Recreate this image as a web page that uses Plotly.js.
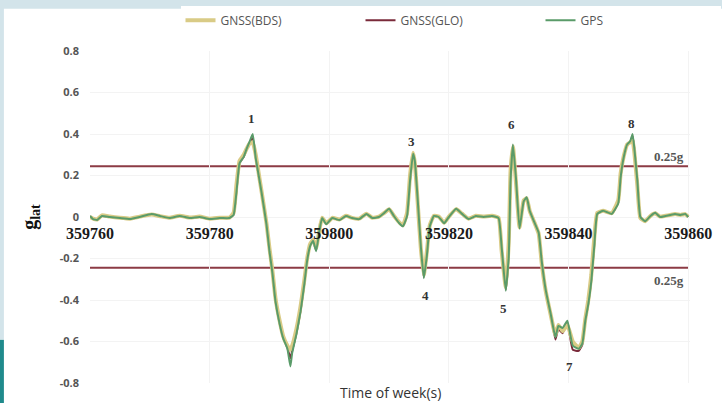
<!DOCTYPE html>
<html>
<head>
<meta charset="utf-8">
<script src="https://cdn.plot.ly/plotly-3.0.1.min.js"></script>
<style>html,body{margin:0;padding:0;background:#fff;}#chart{width:722px;height:403px;}</style>
</head>
<body>
<div id="chart"></div>
<script>
// Time of week (s)
const timeOfWeek = [359760.0, 359760.5, 359761.2, 359762.0, 359763.3, 359765.0, 359766.7, 359768.3, 359770.3, 359771.7,
  359773.3, 359775.0, 359776.7, 359778.3, 359780.0, 359781.7, 359783.3, 359784.0, 359784.5, 359785.0,
  359785.7, 359786.2, 359786.7, 359787.2, 359787.7, 359788.2, 359788.7, 359789.5, 359790.0, 359790.5,
  359791.0, 359791.7, 359792.3, 359793.0, 359793.5, 359793.8, 359794.5, 359795.2, 359795.8, 359796.3,
  359796.8, 359797.3, 359797.8, 359798.3, 359798.8, 359799.5, 359800.5, 359801.7, 359802.8, 359803.8,
  359805.0, 359806.2, 359807.2, 359808.3, 359809.2, 359810.0, 359810.8, 359811.7, 359812.3, 359813.0,
  359813.5, 359814.0, 359814.3, 359814.8, 359815.3, 359815.8, 359816.3, 359816.8, 359817.5, 359818.3,
  359819.2, 359820.0, 359821.2, 359822.2, 359823.3, 359824.5, 359825.8, 359827.2, 359828.3, 359828.8,
  359829.5, 359830.0, 359830.3, 359830.7, 359831.2, 359831.8, 359832.5, 359833.0, 359833.5, 359834.2,
  359835.0, 359835.5, 359836.2, 359837.0, 359837.8, 359838.3, 359839.0, 359839.8, 359840.7, 359841.7,
  359842.3, 359842.8, 359843.3, 359843.8, 359844.3, 359844.8, 359845.8, 359847.2, 359848.3, 359848.7,
  359849.2, 359849.8, 359850.3, 359850.7, 359851.0, 359851.5, 359852.0, 359852.8, 359853.7, 359854.5,
  359855.3, 359856.2, 359857.0, 359857.8, 359858.7, 359859.5, 359860.0];

// Lateral acceleration (g) - GNSS(BDS)
const glatBDS = [0.0, -0.008, -0.012, 0.008, 0.002, -0.004, -0.008, 0.002, 0.012, 0.004,
  -0.004, 0.006, -0.003, 0.002, -0.008, -0.004, -0.003, 0.02, 0.16, 0.27,
  0.30, 0.33, 0.355, 0.36, 0.30, 0.21, 0.12, -0.03, -0.15, -0.26,
  -0.39, -0.50, -0.575, -0.62, -0.64, -0.62, -0.54, -0.43, -0.31, -0.2,
  -0.13, -0.11, -0.15, -0.07, -0.003, -0.03, -0.004, -0.012, 0.006, -0.004,
  -0.008, 0.016, -0.004, 0.002, 0.02, 0.038, 0.006, -0.026, -0.04, 0.02,
  0.2, 0.31, 0.26, 0.06, -0.15, -0.28, -0.17, -0.04, 0.006, 0.002,
  -0.028, 0.002, 0.038, 0.016, -0.008, 0.006, 0.002, 0.006, -0.004, -0.16,
  -0.34, -0.12, 0.22, 0.34, 0.17, -0.05, 0.08, 0.09, 0.03, -0.02,
  -0.08, -0.22, -0.36, -0.47, -0.57, -0.52, -0.55, -0.52, -0.60, -0.63,
  -0.6, -0.49, -0.4, -0.28, -0.1, 0.02, 0.03, 0.018, 0.08, 0.21,
  0.29, 0.35, 0.36, 0.37, 0.31, 0.15, -0.005, -0.02, 0.006, 0.018,
  0.002, 0.006, 0.01, 0.014, 0.01, 0.014, 0.002];

// Lateral acceleration (g) - GNSS(GLO)
const glatGLO = [0.004, -0.01, -0.013, 0.005, 0.001, -0.005, -0.009, 0.001, 0.013, 0.005,
  -0.005, 0.005, -0.004, 0.001, -0.009, -0.005, -0.004, 0.012, 0.13, 0.26,
  0.29, 0.325, 0.36, 0.38, 0.29, 0.2, 0.115, -0.033, -0.16, -0.265,
  -0.40, -0.51, -0.58, -0.63, -0.68, -0.645, -0.56, -0.45, -0.325, -0.205,
  -0.135, -0.115, -0.16, -0.073, -0.005, -0.033, -0.005, -0.014, 0.005, -0.005,
  -0.009, 0.015, -0.005, 0.001, 0.02, 0.04, 0.005, -0.028, -0.043, 0.008,
  0.18, 0.3, 0.265, 0.07, -0.145, -0.29, -0.185, -0.043, 0.005, 0.001,
  -0.029, 0.001, 0.039, 0.015, -0.009, 0.005, 0.001, 0.005, -0.005, -0.145,
  -0.35, -0.17, 0.18, 0.345, 0.185, -0.053, 0.076, 0.093, 0.03, -0.02,
  -0.077, -0.215, -0.358, -0.468, -0.59, -0.54, -0.56, -0.51, -0.64, -0.645,
  -0.615, -0.5, -0.415, -0.3, -0.13, 0.015, 0.03, 0.015, 0.07, 0.195,
  0.285, 0.345, 0.36, 0.39, 0.325, 0.17, 0, -0.02, 0.005, 0.02,
  0.001, 0.005, 0.01, 0.015, 0.01, 0.015, 0.001];

// Lateral acceleration (g) - GPS
const glatGPS = [0.005, -0.01, -0.014, 0.005, 0, -0.005, -0.01, 0, 0.014, 0.005,
  -0.005, 0.005, -0.005, 0, -0.01, -0.005, -0.005, 0.01, 0.125, 0.26,
  0.29, 0.33, 0.365, 0.40, 0.285, 0.2, 0.115, -0.035, -0.165, -0.27,
  -0.405, -0.515, -0.585, -0.635, -0.72, -0.655, -0.565, -0.455, -0.33, -0.21,
  -0.14, -0.115, -0.165, -0.075, -0.005, -0.035, -0.005, -0.015, 0.005, -0.005,
  -0.01, 0.015, -0.005, 0, 0.02, 0.04, 0.005, -0.03, -0.045, 0.005,
  0.175, 0.305, 0.27, 0.075, -0.14, -0.295, -0.19, -0.045, 0.005, 0,
  -0.03, 0, 0.04, 0.015, -0.01, 0.005, 0, 0.005, -0.005, -0.14,
  -0.355, -0.19, 0.175, 0.35, 0.19, -0.055, 0.075, 0.095, 0.03, -0.02,
  -0.075, -0.21, -0.355, -0.465, -0.58, -0.525, -0.535, -0.5, -0.62, -0.635,
  -0.61, -0.5, -0.42, -0.31, -0.14, 0.015, 0.03, 0.015, 0.065, 0.19,
  0.285, 0.35, 0.365, 0.40, 0.33, 0.175, 0, -0.02, 0.005, 0.02,
  0, 0.005, 0.01, 0.015, 0.01, 0.015, 0];

const seriesNames = ['GNSS(BDS)', 'GNSS(GLO)', 'GPS'];
const thresholdValues = [0.245, -0.245];
const thresholdLabels = ['0.25g', '0.25g'];
const xTickValues = [359760, 359780, 359800, 359820, 359840, 359860];
const xTickText = ['359760', '359780', '359800', '359820', '359840', '359860'];
const yTickValues = [-0.8, -0.6, -0.4, -0.2, 0, 0.2, 0.4, 0.6, 0.8];
const yTickText = ['-0.8', '-0.6', '-0.4', '-0.2', '0', '0.2', '0.4', '0.6', '0.8'];
const eventLabels = ['1', '2', '3', '4', '5', '6', '7', '8'];
const eventTimes = [359787.0, 359792.7, 359813.8, 359816.0, 359829.2, 359830.5, 359840.2, 359850.5];
const eventValues = [0.477, -0.804, 0.366, -0.376, -0.443, 0.448, -0.722, 0.453];
const thresholdLabelTime = 359856.8;
const thresholdLabelValues = [0.294, -0.308];

const serif = 'Liberation Serif, Times New Roman, serif';
const sans = 'Open Sans, Noto Sans, sans-serif';

const traces = [
  {x: timeOfWeek, y: glatGLO, name: seriesNames[1], type: 'scatter', mode: 'lines', legendrank: 2,
   line: {color: '#7a2a3a', width: 2, shape: 'spline', smoothing: 0.4}},
  {x: timeOfWeek, y: glatBDS, name: seriesNames[0], type: 'scatter', mode: 'lines', legendrank: 1,
   line: {color: '#d9cb86', width: 4, shape: 'spline', smoothing: 0.4}},
  {x: timeOfWeek, y: glatGPS, name: seriesNames[2], type: 'scatter', mode: 'lines', legendrank: 3,
   line: {color: '#5a9b69', width: 2, shape: 'spline', smoothing: 0.4}}
];

const shapes = thresholdValues.map(v => ({
  type: 'line', xref: 'x', yref: 'y', x0: xTickValues[0], x1: xTickValues[xTickValues.length - 1],
  y0: v, y1: v, line: {color: '#8c3b45', width: 2}, layer: 'below'
}));
// image frame decoration
shapes.push({type: 'rect', xref: 'paper', yref: 'paper', x0: -0.16, x1: 1.06, y0: 1.127, y1: 1.16,
  fillcolor: '#d3e4ea', line: {width: 0}, layer: 'below'});
shapes.push({type: 'rect', xref: 'paper', yref: 'paper', x0: -0.16, x1: -0.1435, y0: 0.13, y1: 1.16,
  fillcolor: '#d3e4ea', line: {width: 0}, layer: 'below'});
shapes.push({type: 'rect', xref: 'paper', yref: 'paper', x0: -0.16, x1: -0.1435, y0: -0.07, y1: 0.13,
  fillcolor: '#1f8a8c', line: {width: 0}, layer: 'below'});

const annotations = eventLabels.map((t, i) => ({
  x: eventTimes[i], y: eventValues[i], xref: 'x', yref: 'y', text: t, showarrow: false,
  font: {family: serif, size: 13, color: '#333', weight: 'bold'}
}));
thresholdLabels.forEach((t, i) => annotations.push({
  x: thresholdLabelTime, y: thresholdLabelValues[i], xref: 'x', yref: 'y', text: t, showarrow: false,
  font: {family: serif, size: 13, color: '#555', weight: 'bold'}
}));
annotations.push({
  x: 0.5, y: -0.03, xref: 'paper', yref: 'paper', yanchor: 'middle', text: 'Time of week(s)', showarrow: false,
  font: {family: sans, size: 14, color: '#333'}
});

const layout = {
  width: 722, height: 403,
  margin: {l: 90, r: 32, t: 51, b: 20},
  paper_bgcolor: '#ffffff', plot_bgcolor: '#ffffff',
  showlegend: true,
  legend: {orientation: 'h', xref: 'container', yref: 'container', x: 0.25, xanchor: 'left',
    y: 0.95, yanchor: 'middle', entrywidth: 135, entrywidthmode: 'pixels',
    itemwidth: 30, font: {family: sans, size: 12, color: '#555'}},
  xaxis: {range: [359760, 359860.3], tickvals: xTickValues, ticktext: xTickText, anchor: 'free', position: 0.5,
    automargin: false, showline: false, zeroline: false, ticks: '', showgrid: true, gridcolor: '#f3f3f3',
    ticklabelstandoff: 5,
    tickfont: {family: serif, size: 16, color: '#1a1a1a', weight: 'bold'}},
  yaxis: {range: [-0.8, 0.8], tickvals: yTickValues, ticktext: yTickText, zeroline: false, automargin: false,
    showline: false, ticks: '', showgrid: true, gridcolor: '#f3f3f3', ticklabelstandoff: 10,
    tickfont: {family: sans, size: 11, color: '#555', weight: 'bold'},
    title: {text: 'g<sub>lat</sub>', standoff: 17, font: {family: serif, size: 20, color: '#111', weight: 'bold'}}},
  shapes: shapes,
  annotations: annotations
};

Plotly.newPlot('chart', traces, layout, {displayModeBar: false, staticPlot: true});
</script>
</body>
</html>
